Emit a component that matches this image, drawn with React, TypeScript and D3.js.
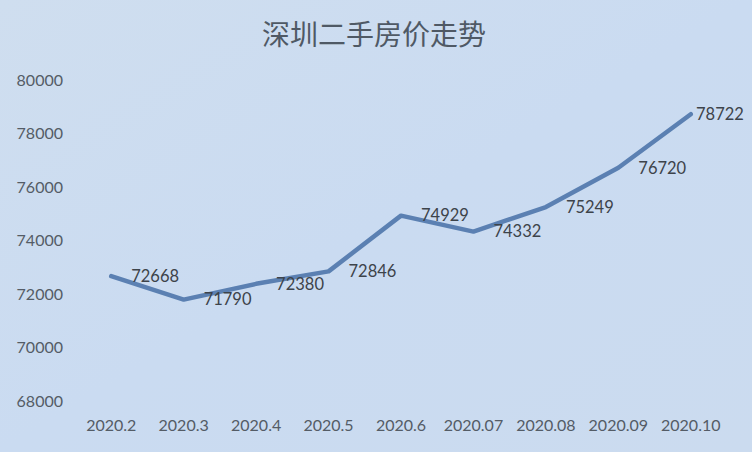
import * as React from "react";
import * as d3 from "d3";

const months = [
  "2020.2",
  "2020.3",
  "2020.4",
  "2020.5",
  "2020.6",
  "2020.07",
  "2020.08",
  "2020.09",
  "2020.10",
];
const prices = [72668, 71790, 72380, 72846, 74929, 74332, 75249, 76720, 78722];
const yTickValues = [68000, 70000, 72000, 74000, 76000, 78000, 80000];
const title = "深圳二手房价走势";

const W = 752;
const H = 452;
const PLOT = { left: 75, right: 727, top: 80, bottom: 401 };
const FONT = "Lato, 'Open Sans', 'Noto Sans', sans-serif";
// labels sit right of their point, but stay inside the chart frame
const LABEL_GAP = 20;
const LABEL_W = 47;
const LABEL_MAX_RIGHT = 743;

export default function App() {
  const x = d3
    .scalePoint<string>()
    .domain(months)
    .range([PLOT.left, PLOT.right])
    .padding(0.5);
  const y = d3
    .scaleLinear()
    .domain([68000, 80000])
    .range([PLOT.bottom, PLOT.top]);

  const line = d3
    .line<number>()
    .x((_, i) => x(months[i])!)
    .y((d) => y(d));

  return (
    <div style={{ position: "fixed", left: 0, top: 0 }}>
      <svg width={W} height={H} style={{ display: "block" }}>
        <defs>
          <linearGradient id="bg" x1="0" y1="0" x2="1" y2="1">
            <stop offset="0%" stopColor="#cfdeef" />
            <stop offset="50%" stopColor="#cadbf1" />
            <stop offset="100%" stopColor="#cbdbef" />
          </linearGradient>
        </defs>
        <rect width={W} height={H} fill="url(#bg)" />

        <text
          x={374}
          y={35}
          dy="0.35em"
          textAnchor="middle"
          fontFamily="'Noto Sans CJK SC', sans-serif"
          fontSize={28}
          fill="#4f5965"
        >
          {title}
        </text>

        {/* Y axis labels */}
        {yTickValues.map((t) => (
          <text
            key={`y-${t}`}
            x={63}
            y={y(t)}
            dy="0.35em"
            textAnchor="end"
            fontFamily={FONT}
            fontSize={16}
            fill="#545c66"
          >
            {t}
          </text>
        ))}

        {/* X axis labels */}
        {months.map((m) => (
          <text
            key={`x-${m}`}
            x={x(m)!}
            y={425}
            dy="0.35em"
            textAnchor="middle"
            fontFamily={FONT}
            fontSize={16}
            fill="#545c66"
          >
            {m}
          </text>
        ))}

        <path
          d={line(prices) ?? ""}
          fill="none"
          stroke="#5b80b2"
          strokeWidth={4.5}
          strokeLinejoin="round"
          strokeLinecap="round"
        />

        {/* Data labels */}
        {prices.map((v, i) => (
          <text
            key={`l-${i}`}
            x={Math.min(x(months[i])! + LABEL_GAP, LABEL_MAX_RIGHT - LABEL_W)}
            y={y(v)}
            dy="0.35em"
            fontFamily={FONT}
            fontSize={16.5}
            fill="#3d434a"
          >
            {v}
          </text>
        ))}
      </svg>
    </div>
  );
}
